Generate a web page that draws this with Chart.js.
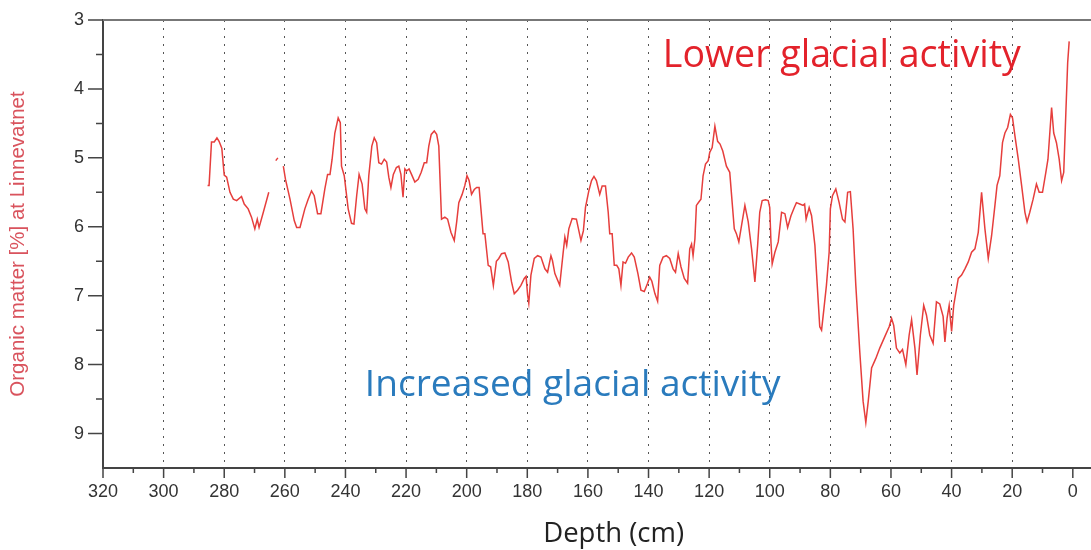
<!DOCTYPE html>
<html>
<head>
<meta charset="utf-8">
<script src="https://cdn.jsdelivr.net/npm/chart.js@4"></script>
<style>
  html, body { margin: 0; padding: 0; background: #fff; }
  #wrap { width: 1091px; height: 550px; }
</style>
</head>
<body>
<div id="wrap"><canvas id="myChart" width="1091" height="550"></canvas></div>
<script>
// depth of each sample (cm) and organic matter (%)
// null = gap in the record
var depthCm = [
  285.5, 285.0, 284.2, 283.3, 282.4, 281.7, 280.8, 280.0, 279.2, 278.1,
  277.0, 275.9, 274.3, 273.4, 272.1, 271.0, 269.9, 269.1, 268.5, 267.1,
  265.3, 264.3, 263.0, 262.3, 261.4, 260.5, 259.8, 258.3, 256.9, 256.1,
  255.0, 253.4, 252.3, 251.2, 250.3, 249.2, 248.1, 246.8, 245.9, 245.1,
  244.4, 243.5, 242.4, 241.7, 241.3, 240.4, 239.1, 238.0, 237.2, 236.3,
  235.5, 234.5, 233.6, 233.0, 232.3, 231.3, 230.5, 229.7, 229.0, 228.1,
  227.2, 226.4, 225.7, 225.0, 224.2, 223.2, 222.4, 221.7, 221.3, 221.0,
  220.4, 219.8, 219.0, 218.2, 217.1, 216.0, 215.0, 214.0, 213.2, 212.5,
  211.7, 210.7, 209.9, 209.2, 208.3, 207.2, 206.3, 205.2, 204.1, 203.3,
  202.6, 201.5, 200.6, 199.9, 199.2, 198.4, 197.5, 196.7, 195.9, 195.3,
  194.6, 194.0, 192.9, 192.1, 191.2, 190.2, 189.4, 188.5, 187.4, 186.3,
  185.2, 184.3, 183.2, 182.1, 181.0, 180.4, 179.9, 179.5, 178.8, 177.7,
  176.6, 175.5, 174.2, 173.3, 172.2, 171.7, 170.9, 169.3, 168.2, 167.6,
  167.0, 166.3, 165.2, 163.8, 162.3, 161.5, 160.8, 159.7, 158.8, 158.0,
  157.2, 156.1, 155.3, 154.2, 153.3, 152.8, 152.0, 151.3, 150.5, 149.8,
  149.1, 148.4, 147.6, 146.7, 145.6, 144.7, 143.5, 142.5, 141.4, 140.3,
  139.6, 138.9, 137.9, 137.0, 136.3, 135.2, 134.1, 133.0, 131.9, 131.1,
  130.2, 129.3, 128.2, 127.1, 126.4, 125.8, 125.3, 124.7, 124.2, 123.4,
  122.7, 122.0, 121.2, 120.3, 119.8, 119.0, 118.1, 117.2, 116.4, 115.5,
  114.3, 113.2, 112.4, 111.7, 111.0, 110.2, 109.3, 108.2, 107.1, 106.0,
  104.9, 104.0, 103.3, 102.5, 101.4, 100.5, 100.0, 99.6, 99.2, 98.3,
  97.2, 96.1, 95.0, 94.1, 93.0, 91.9, 91.2, 90.1, 89.0, 88.5,
  88.0, 87.0, 86.2, 85.1, 84.0, 83.5, 82.9, 82.1, 81.3, 80.4,
  80.0, 79.3, 78.2, 77.1, 76.0, 75.2, 74.3, 73.4, 72.5, 71.6,
  70.3, 69.2, 68.3, 67.5, 66.4, 65.0, 63.7, 62.0, 60.6, 59.8,
  59.1, 58.2, 57.1, 56.2, 55.1, 54.0, 53.2, 52.1, 51.4, 50.3,
  49.2, 48.3, 47.2, 46.1, 45.0, 43.9, 42.8, 42.2, 41.5, 40.8,
  40.0, 39.3, 37.8, 36.7, 35.6, 34.5, 33.4, 32.3, 31.2, 30.1,
  29.0, 27.9, 26.8, 25.7, 25.0, 24.1, 23.2, 22.4, 21.5, 20.6,
  19.9, 19.1, 18.0, 16.9, 15.8, 15.1, 14.2, 13.1, 12.0, 11.1,
  10.0, 8.9, 8.2, 7.0, 6.3, 5.4, 4.5, 3.7, 3.0, 2.3,
  1.7, 1.2
];
var organicMatter = [
  5.40, 5.40, 4.77, 4.77, 4.71, 4.76, 4.86, 5.25, 5.28, 5.50,
  5.60, 5.62, 5.56, 5.67, 5.74, 5.86, 6.03, 5.89, 6.01, 5.79,
  5.50, null, 5.04, 5.00, null, 5.12, 5.31, 5.60, 5.91, 6.01,
  6.01, 5.74, 5.60, 5.48, 5.55, 5.81, 5.81, 5.45, 5.24, 5.24,
  5.02, 4.64, 4.42, 4.49, 5.12, 5.26, 5.74, 5.95, 5.96, 5.55,
  5.24, 5.38, 5.74, 5.79, 5.26, 4.83, 4.71, 4.78, 5.07, 5.09,
  5.02, 5.06, 5.28, 5.43, 5.24, 5.14, 5.12, 5.24, 5.43, 5.57,
  5.16, 5.19, 5.16, 5.24, 5.35, 5.31, 5.21, 5.07, 5.07, 4.83,
  4.66, 4.61, 4.66, 4.83, 5.89, 5.86, 5.89, 6.08, 6.20, 5.93,
  5.65, 5.53, 5.40, 5.26, 5.33, 5.53, 5.46, 5.43, 5.43, 5.74,
  6.10, 6.10, 6.56, 6.58, 6.85, 6.50, 6.46, 6.39, 6.38, 6.51,
  6.80, 6.97, 6.92, 6.85, 6.75, 6.72, 6.99, 7.11, 6.70, 6.46,
  6.42, 6.44, 6.61, 6.66, 6.42, 6.49, 6.68, 6.85, 6.39, 6.15,
  6.27, 6.03, 5.88, 5.89, 6.20, 6.06, 5.72, 5.48, 5.33, 5.27,
  5.33, 5.53, 5.41, 5.41, 5.79, 6.10, 6.10, 6.56, 6.56, 6.61,
  6.85, 6.51, 6.53, 6.44, 6.38, 6.44, 6.68, 6.92, 6.94, 6.82,
  6.73, 6.79, 6.97, 7.08, 6.56, 6.44, 6.42, 6.46, 6.61, 6.66,
  6.39, 6.58, 6.75, 6.82, 6.32, 6.25, 6.42, 6.18, 5.69, 5.64,
  5.60, 5.26, 5.09, 5.04, 4.92, 4.85, 4.54, 4.76, 4.80, 4.90,
  5.12, 5.21, 5.65, 6.03, 6.10, 6.22, 5.98, 5.69, 5.93, 6.32,
  6.80, 6.27, 5.79, 5.62, 5.61, 5.62, 5.72, 6.22, 6.54, 6.37,
  6.22, 5.79, 5.81, 6.01, 5.84, 5.72, 5.65, 5.67, 5.69, 5.67,
  5.89, 5.72, 5.84, 6.27, 7.09, 7.45, 7.50, 7.18, 6.85, 6.37,
  5.74, 5.55, 5.45, 5.65, 5.89, 5.93, 5.50, 5.49, 6.03, 6.85,
  7.81, 8.53, 8.84, 8.53, 8.05, 7.91, 7.76, 7.59, 7.45, 7.33,
  7.43, 7.76, 7.83, 7.78, 8.00, 7.57, 7.35, 7.76, 8.15, 7.57,
  7.14, 7.28, 7.57, 7.69, 7.09, 7.12, 7.30, 7.67, 7.33, 7.14,
  7.52, 7.14, 6.75, 6.70, 6.61, 6.51, 6.37, 6.32, 6.08, 5.50,
  6.03, 6.46, 6.13, 5.69, 5.40, 5.26, 4.78, 4.64, 4.56, 4.37,
  4.42, 4.68, 5.02, 5.40, 5.79, 5.93, 5.79, 5.60, 5.38, 5.50,
  5.50, 5.21, 5.02, 4.27, 4.64, 4.78, 5.02, 5.33, 5.21, 4.35,
  3.62, 3.31
];

var depthTicks = [320, 310, 300, 290, 280, 270, 260, 250, 240, 230, 220, 210, 200, 190, 180, 170,
                  160, 150, 140, 130, 120, 110, 100, 90, 80, 70, 60, 50, 40, 30, 20, 10, 0];
var depthLabels = [320, 300, 280, 260, 240, 220, 200, 180, 160, 140, 120, 100, 80, 60, 40, 20, 0];
var depthGrid = [300, 280, 260, 240, 220, 200, 180, 160, 140, 120, 100, 80, 60, 40, 20];
var organicTicks = [3, 3.5, 4, 4.5, 5, 5.5, 6, 6.5, 7, 7.5, 8, 8.5, 9];
var organicLabels = [3, 4, 5, 6, 7, 8, 9];

var upperNote = 'Lower glacial activity';
var lowerNote = 'Increased glacial activity';

var tickFont = { family: 'Liberation Sans, Arial, sans-serif', size: 18 };

// tick marks, top frame line and the two notes
var decorations = {
  id: 'decorations',
  afterDraw: function(chart) {
    var ctx = chart.ctx;
    var xs = chart.scales.x, ys = chart.scales.y;
    var area = chart.chartArea;
    ctx.save();

    ctx.strokeStyle = '#444';
    ctx.lineWidth = 1.5;
    ctx.beginPath();
    depthTicks.forEach(function(v) {
      var px = xs.getPixelForValue(v);
      var len = depthLabels.indexOf(v) >= 0 ? 10 : 5;
      ctx.moveTo(px, area.bottom);
      ctx.lineTo(px, area.bottom + len);
    });
    organicTicks.forEach(function(v) {
      var py = ys.getPixelForValue(v);
      var len = organicLabels.indexOf(v) >= 0 ? 15 : 7;
      ctx.moveTo(area.left - len, py);
      ctx.lineTo(area.left, py);
    });
    ctx.stroke();

    ctx.strokeStyle = '#777';
    ctx.lineWidth = 2;
    ctx.beginPath();
    ctx.moveTo(area.left, area.top);
    ctx.lineTo(area.right, area.top);
    ctx.stroke();

    ctx.textAlign = 'left';
    ctx.textBaseline = 'alphabetic';
    ctx.font = '37.6px "Open Sans"';
    ctx.fillStyle = '#e3222b';
    ctx.fillText(upperNote, xs.getPixelForValue(135.3), ys.getPixelForValue(3.68));
    ctx.font = '37.1px "Open Sans"';
    ctx.fillStyle = '#2a7bbd';
    ctx.fillText(lowerNote, xs.getPixelForValue(233.6), ys.getPixelForValue(8.45));

    ctx.font = '27.5px "Open Sans"';
    ctx.fillStyle = '#222';
    ctx.textAlign = 'center';
    ctx.textBaseline = 'middle';
    ctx.fillText('Depth (cm)', xs.getPixelForValue(151.5), chart.height - 16);
    ctx.restore();
  }
};

var points = depthCm.map(function(d, i) { return { x: d, y: organicMatter[i] }; });

var ctx = document.getElementById('myChart').getContext('2d');
var chart = new Chart(ctx, {
  type: 'line',
  data: {
    datasets: [{
      label: 'Organic matter',
      data: points,
      borderColor: '#e63e3c',
      borderWidth: 1.5,
      pointRadius: 0,
      tension: 0,
      spanGaps: false,
      fill: false
    }]
  },
  options: {
    responsive: false,
    animation: false,
    devicePixelRatio: 1,
    layout: { padding: { top: 20, left: 0, right: 0, bottom: 0 } },
    plugins: { legend: { display: false }, tooltip: { enabled: false } },
    scales: {
      x: {
        type: 'linear',
        position: 'bottom',
        min: -6,
        max: 320,
        reverse: true,
        afterBuildTicks: function(s) { s.ticks = depthTicks.map(function(v) { return { value: v }; }); },
        afterFit: function(s) { s.height = 82; s.paddingLeft = 0; s.paddingRight = 0; },
        border: { display: true, color: '#444', width: 2, dash: [2, 6] },
        grid: {
          drawTicks: false,
          lineWidth: 1,
          color: function(c) { return c.tick && depthGrid.indexOf(c.tick.value) >= 0 ? '#555' : 'transparent'; }
        },
        ticks: {
          autoSkip: false,
          maxRotation: 0,
          padding: 13,
          color: '#333',
          font: tickFont,
          callback: function(v) { return depthLabels.indexOf(v) >= 0 ? String(v) : ''; }
        }
      },
      y: {
        type: 'linear',
        min: 3,
        max: 9.5,
        reverse: true,
        afterBuildTicks: function(s) { s.ticks = organicTicks.map(function(v) { return { value: v }; }); },
        afterFit: function(s) { s.width = 103; s.paddingTop = 0; s.paddingBottom = 0; },
        border: { display: true, color: '#444', width: 2 },
        grid: { display: false, drawTicks: false },
        ticks: {
          padding: 19,
          color: '#333',
          font: tickFont,
          callback: function(v) { return organicLabels.indexOf(v) >= 0 ? String(v) : ''; }
        },
        title: {
          display: true,
          text: 'Organic matter [%] at Linnevatnet',
          color: '#d9535d',
          font: { family: 'Liberation Sans, Arial, sans-serif', size: 20.5 },
          padding: { top: 6, bottom: 0 }
        }
      }
    }
  },
  plugins: [decorations]
});
</script>
</body>
</html>
